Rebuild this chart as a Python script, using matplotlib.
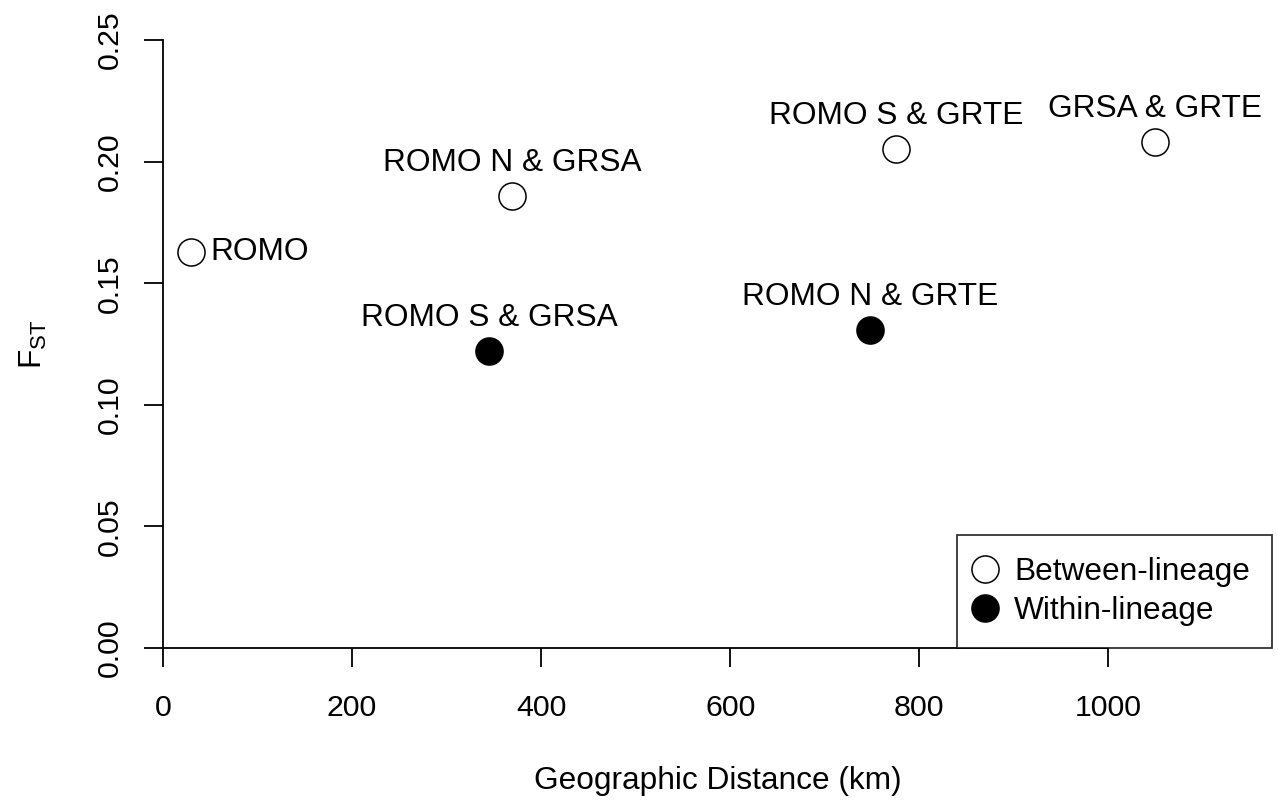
import matplotlib
matplotlib.use("Agg")
import matplotlib.pyplot as plt
from matplotlib.lines import Line2D

plt.rcParams['font.family'] = ['Liberation Sans', 'DejaVu Sans']

labels = ["ROMO", "ROMO N & GRSA", "ROMO S & GRSA", "ROMO S & GRTE", "ROMO N & GRTE", "GRSA & GRTE"]
distance_km = [30, 369, 345, 775, 748, 1049]
fst = [0.1628, 0.1859, 0.1221, 0.2052, 0.1308, 0.2081]
lineage = ["between", "between", "within", "between", "within", "between"]
label_side = ["right", "top", "top", "top", "top", "top"]

xticks = [0, 200, 400, 600, 800, 1000]
yticks = [0.00, 0.05, 0.10, 0.15, 0.20, 0.25]

W, H = 1278, 801
fig = plt.figure(figsize=(W / 100, H / 100), dpi=100)
ax = fig.add_axes([163 / W, 1 - 648 / H, (1272 - 163) / W, (648 - 40) / H])

fs = 22.8
fs_tick = 21.8
ms = 19.5

for x, y, lab, lin, side in zip(distance_km, fst, labels, lineage, label_side):
    face = 'white' if lin == 'between' else 'black'
    ax.plot([x], [y], marker='o', linestyle='none', markersize=ms,
            markerfacecolor=face, markeredgecolor='black', markeredgewidth=1.1,
            clip_on=False, zorder=3)
    if side == 'right':
        ax.annotate(lab, (x, y), xytext=(14, 0), textcoords='offset points',
                    ha='left', va='center', fontsize=fs)
    else:
        ax.annotate(lab, (x, y), xytext=(0, 23.5), textcoords='offset points',
                    ha='center', va='center', fontsize=fs)

ax.set_xlim(0, 1173)
ax.set_ylim(0, 0.25)
ax.set_xticks(xticks)
ax.set_xticklabels([str(v) for v in xticks], fontsize=fs_tick)
ax.set_yticks(yticks)
ax.set_yticklabels([f"{v:.2f}" for v in yticks], fontsize=fs_tick, rotation=90, va='center')
ax.tick_params(axis='both', direction='out', length=14, width=1.3, color='black')
ax.tick_params(axis='x', pad=19)
ax.tick_params(axis='y', pad=14)

for s in ['top', 'right']:
    ax.spines[s].set_visible(False)
ax.spines['left'].set_bounds(0, 0.25)
ax.spines['bottom'].set_bounds(0, 1000)
for s in ['left', 'bottom']:
    ax.spines[s].set_linewidth(1.3)

ax.set_xlabel("Geographic Distance (km)", fontsize=fs, labelpad=32)
ax.set_ylabel(r"F$_{\mathregular{ST}}$", fontsize=fs, labelpad=34)

handles = [
    Line2D([], [], marker='o', linestyle='none', markersize=ms, markerfacecolor='white',
           markeredgecolor='black', markeredgewidth=1.1),
    Line2D([], [], marker='o', linestyle='none', markersize=ms, markerfacecolor='black',
           markeredgecolor='black', markeredgewidth=1.1),
]
leg = ax.legend(handles, ["Between-lineage", "Within-lineage"], loc='lower right',
                bbox_to_anchor=(1, 0), borderaxespad=0, fontsize=fs, frameon=True,
                fancybox=False, edgecolor='black', handlelength=0.35, handletextpad=0.75,
                labelspacing=0.27, borderpad=0.7)
leg.get_frame().set_linewidth(1.3)

fig.savefig("out.png", dpi=100)
